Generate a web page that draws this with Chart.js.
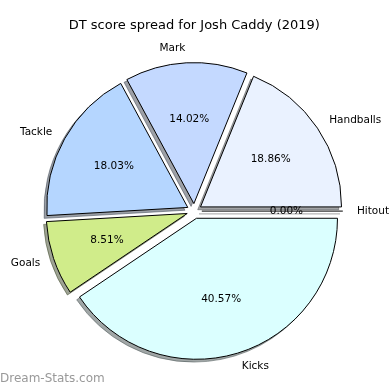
<!DOCTYPE html>
<html>
<head>
<meta charset="utf-8">
<script src="https://cdn.jsdelivr.net/npm/chart.js@4.4.0/dist/chart.umd.min.js"></script>
<style>
html,body{margin:0;padding:0;background:#fff;}
#wrap{width:390px;height:390px;position:relative;}
</style>
</head>
<body>
<div id="wrap"><canvas id="c" width="390" height="390"></canvas></div>
<script>
// ---- data ----
const titleText = 'DT score spread for Josh Caddy (2019)';
const categories = ['Kicks', 'Goals', 'Tackle', 'Mark', 'Handballs', 'Hitout'];
const shares = [40.57, 8.51, 18.03, 14.02, 18.86, 0.00];
const sliceColors = ['#dbffff', '#d0ec8a', '#b5d6ff', '#c4d9ff', '#eaf2ff', '#f0f0f0'];
const watermark = 'Dream-Stats.com';

// ---- style constants ----
const EXPLODE = 7.5;     // px, radial explode of each wedge
const SH_DX = -2.8, SH_DY = 2.8; // shadow offset
const RADIUS = 141;
const FONT = "'DejaVu Sans', 'Liberation Sans', sans-serif";
const LABEL_SIZE = 10.5;

function shadowColor(hex) {
  const n = parseInt(hex.slice(1), 16);
  const r = (n >> 16) & 255, g = (n >> 8) & 255, b = n & 255;
  return `rgba(${Math.round(r*0.3)},${Math.round(g*0.3)},${Math.round(b*0.3)},0.5)`;
}

const total = shares.reduce((a, b) => a + b, 0);

const mplPie = {
  id: 'mplPie',
  beforeDatasetsDraw(chart) {
    const ctx = chart.ctx;
    const meta = chart.getDatasetMeta(0);
    meta.data.forEach((el, i) => {
      if (!el._exploded) {
        const orig = el.draw;
        el.draw = function (c, area) {
          const h = (this.startAngle + this.endAngle) / 2;
          c.save();
          c.translate(Math.cos(h) * EXPLODE, Math.sin(h) * EXPLODE);
          orig.call(this, c, area);
          c.restore();
        };
        el._exploded = true;
      }
      // shadow (drawn beneath all wedges)
      const h = (el.startAngle + el.endAngle) / 2;
      const x = el.x + Math.cos(h) * EXPLODE + SH_DX;
      const y = el.y + Math.sin(h) * EXPLODE + SH_DY;
      const sc = shadowColor(sliceColors[i]);
      ctx.save();
      ctx.fillStyle = sc;
      ctx.strokeStyle = sc;
      ctx.lineWidth = 1;
      ctx.beginPath();
      ctx.moveTo(x, y);
      if (el.endAngle - el.startAngle > 0) {
        ctx.arc(x, y, el.outerRadius, el.startAngle, el.endAngle);
        ctx.closePath();
        ctx.fill();
        ctx.stroke();
      } else {
        ctx.lineTo(x + Math.cos(h) * el.outerRadius, y + Math.sin(h) * el.outerRadius);
        ctx.stroke();
      }
      ctx.restore();
    });
  },
  afterDatasetsDraw(chart) {
    const ctx = chart.ctx;
    const meta = chart.getDatasetMeta(0);
    meta.data.forEach((el) => {
      if (el.endAngle - el.startAngle > 0) return;
      const h = el.startAngle;
      const x = el.x + Math.cos(h) * EXPLODE;
      const y = el.y + Math.sin(h) * EXPLODE;
      ctx.save();
      ctx.strokeStyle = '#000';
      ctx.lineWidth = 1;
      ctx.beginPath();
      ctx.moveTo(x, y);
      ctx.lineTo(x + Math.cos(h) * el.outerRadius, y + Math.sin(h) * el.outerRadius);
      ctx.stroke();
      ctx.restore();
    });
  },
  afterDraw(chart) {
    const ctx = chart.ctx;
    const meta = chart.getDatasetMeta(0);
    ctx.save();
    ctx.font = LABEL_SIZE + 'px ' + FONT;
    ctx.fillStyle = '#000';
    ctx.textBaseline = 'middle';
    meta.data.forEach((el, i) => {
      const h = (el.startAngle + el.endAngle) / 2;
      const cx = el.x + Math.cos(h) * EXPLODE;
      const cy = el.y + Math.sin(h) * EXPLODE;
      const R = el.outerRadius;
      const lx = cx + Math.cos(h) * R * 1.1;
      const ly = cy + Math.sin(h) * R * 1.1;
      ctx.textAlign = Math.cos(h) > 0 ? 'left' : 'right';
      ctx.fillText(categories[i], lx, ly);
      const px = cx + Math.cos(h) * R * 0.6;
      const py = cy + Math.sin(h) * R * 0.6;
      ctx.textAlign = 'center';
      ctx.fillText((shares[i] / total * 100).toFixed(2) + '%', px, py);
    });
    ctx.font = '12px ' + FONT;
    ctx.fillStyle = '#999999';
    ctx.textAlign = 'left';
    ctx.fillText(watermark, 0, 379);
    ctx.restore();
  }
};

new Chart(document.getElementById('c'), {
  type: 'pie',
  data: {
    labels: categories,
    datasets: [{
      data: shares,
      backgroundColor: sliceColors,
      borderColor: '#000',
      borderWidth: 1,
      borderJoinStyle: 'miter',
      hoverOffset: 0,
      offset: 0
    }]
  },
  options: {
    responsive: false,
    devicePixelRatio: 1,
    animation: false,
    rotation: 90,
    radius: RADIUS,
    layout: { padding: { top: 18.2, left: 0, right: 1.4, bottom: 1.6 } },
    events: [],
    plugins: {
      legend: { display: false },
      tooltip: { enabled: false },
      title: {
        display: true,
        text: titleText,
        color: '#000',
        font: { family: FONT, size: 13, weight: 'normal' },
        padding: { top: 0, bottom: 0 }
      }
    }
  },
  plugins: [mplPie]
});
</script>
</body>
</html>
